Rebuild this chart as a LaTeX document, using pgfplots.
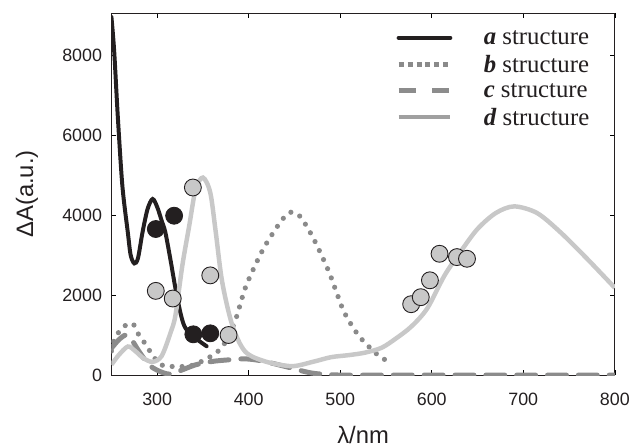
\documentclass[border=0pt]{standalone}
\usepackage{fontspec}
\setmainfont{Liberation Sans}
\newfontfamily\legfont{Liberation Serif}
\usepackage{pgfplots}
\pgfplotsset{compat=1.18}
\definecolor{ca}{HTML}{231F20}
\definecolor{cb}{HTML}{8A8A8A}
\definecolor{cc}{HTML}{8C8C8C}
\definecolor{cd}{HTML}{C8C8C8}
\definecolor{cdl}{HTML}{A0A0A0}
\begin{document}
\begin{tikzpicture}
\begin{axis}[
  scale only axis, width=506bp, height=364bp,
  xmin=250, xmax=800, ymin=0, ymax=9050,
  xtick={300,400,...,800}, ytick={0,2000,...,8000},
  tick align=inside, major tick length=5bp,
  tick style={color=black, line width=0.6bp},
  axis line style={line width=0.8bp, color=ca},
  /pgf/number format/assume math mode=true,
  /pgf/number format/1000 sep={},
  ticklabel style={font=\fontsize{18}{20}\selectfont, color=ca},
  xticklabel style={yshift=-15bp},
  yticklabel style={xshift=-6bp},
  xlabel={λ/nm}, ylabel={ΔA(a.u.)},
  label style={font=\fontsize{24}{28}\selectfont, color=ca},
  xlabel style={at={(axis description cs:0.5,0)}, anchor=center, yshift=-60bp},
  ylabel style={at={(axis description cs:0,0.5)}, anchor=center, yshift=85bp},
  legend image code/.code={\draw[#1] (0bp,0bp) -- (52bp,0bp); \node[draw=none, fill=none, inner sep=0pt, minimum size=0pt] at (83bp,0bp) {};},
  legend cell align=left,
  legend style={at={(rel axis cs:0.565,0.953)}, anchor=north west, draw=none, fill=none,
    inner sep=0pt, font=\legfont\fontsize{25}{26}\selectfont, text=ca,
    nodes={inner sep=0pt}, row sep=9.5bp},
]
% a structure
\addplot[ca, line width=4bp, smooth, tension=0.5, line cap=round] coordinates {
(250,8950) (253,8100) (257,6450) (262,4720) (268,3550) (271,3000) (275,2790) (279,2920)
(284,3570) (289.5,4150) (295,4400) (300,4200) (305,3850) (309,3560) (315,2820) (320,2160)
(326,1500) (331,1170) (342,920) (354,720)};
\addlegendentry{\textbf{\textit{a}} structure}
% b structure
\addplot[cb, line width=5.2bp, line cap=round, dash pattern=on 0pt off 10bp, smooth, tension=0.5,
  legend image post style={line cap=butt, dash pattern=on 5bp off 4bp}] coordinates {
(250,600) (253,880) (262,1185) (273,1290) (280,1000) (288,750) (295,490) (304,260) (316,215)
(329,215) (342,270) (364,546) (375,840) (385.5,1374) (396,2161) (407,2740) (418,3237)
(434.5,3818) (445,4066) (456,3967) (470.6,3420) (487,2616) (496,2062) (505,1540) (521,961)
(543,464) (556,323)};
\addlegendentry{\textbf{\textit{b}} structure}
% c structure
\addplot[cc, line width=5bp, line cap=round, dash pattern=on 19bp off 12bp, smooth, tension=0.5,
  legend image post style={line cap=butt, dash pattern=on 17bp off 17bp}] coordinates {
(250,670) (258,880) (266,1000) (273,850) (280,596) (291,256) (302,100) (313,25) (324,100)
(342,256) (360,340) (378,380) (396,405) (414,355) (440,215) (469,50) (500,0) (550,0) (600,0)
(650,0) (700,0) (750,0) (800,0)};
\addlegendentry{\textbf{\textit{c}} structure}
% d structure
\addplot[cd, line width=4.5bp, smooth, tension=0.5, legend image post style={cdl, line width=4bp}] coordinates {
(250,256) (258,500) (268,713) (276,600) (285,420) (295,330) (305,480) (315,1085) (320,1500)
(327.5,2740) (335,3730) (342,4645) (350,4935) (358,4560) (364,3570) (371,2330) (382,1250)
(396,590) (418,340) (447,223) (470,330) (490,447) (510,500) (527,560) (545,680) (560,900)
(577.5,1209) (595,1664) (614,2491) (632,3100) (650,3652) (670,4050) (690,4215) (715,4050)
(740.5,3570) (770,2900) (800,2180)};
\addlegendentry{\textbf{\textit{d}} structure}
% gray markers
\addplot[only marks, mark=*, mark size=8.5bp, mark options={fill=cd, draw=ca, line width=0.9bp}, forget plot] coordinates {
(298.5,2104) (317,1913) (339,4687) (358,2491) (378,1001) (577.5,1771) (588,1946) (598,2368)
(608.5,3031) (627.5,2948) (638.5,2906)};
% black markers
\addplot[only marks, mark=*, mark size=8.5bp, mark options={fill=ca, draw=ca, line width=0.9bp}, forget plot] coordinates {
(298.5,3650) (318.5,3982) (339.5,1018) (358,1043)};
\coordinate (sw) at (rel axis cs:0,0);
\end{axis}
\path ([shift={(-112bp,-72bp)}]sw) rectangle ++(633bp,449bp);
\end{tikzpicture}
\end{document}
